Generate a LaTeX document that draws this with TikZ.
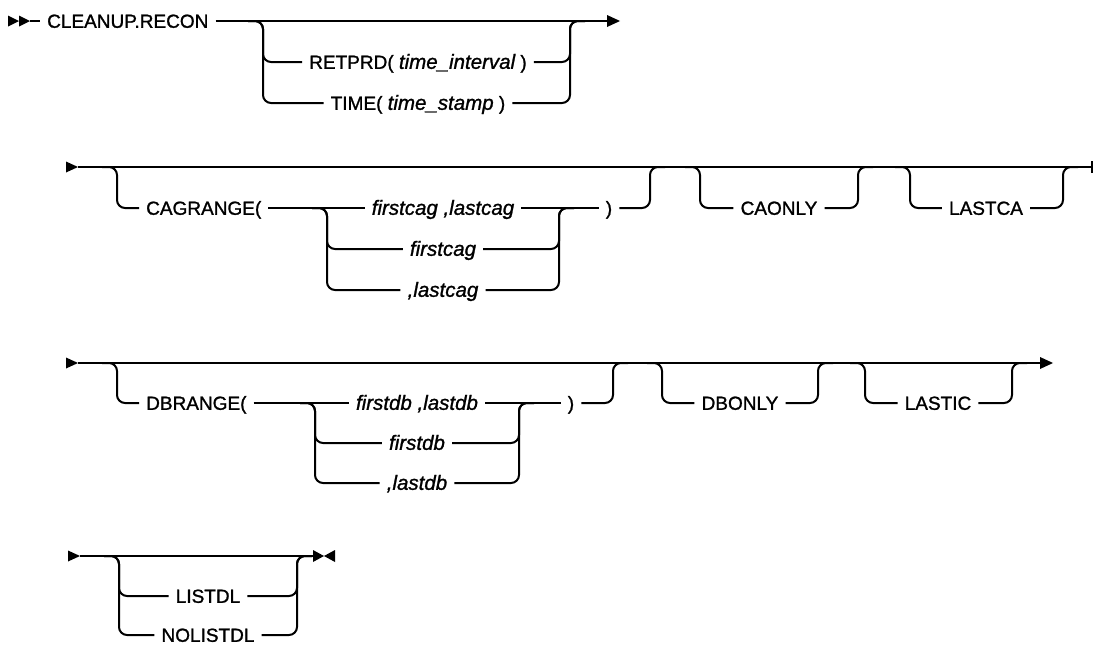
\documentclass[tikz,border=0pt]{standalone}
\usepackage{fontspec}
\setmainfont{Liberation Sans}[UprightFeatures={FakeBold=1.2},ItalicFeatures={FakeBold=1.2}]
\begin{document}
\begin{tikzpicture}[x=1pt,y=-1pt,
  rr/.style={line width=2pt, rounded corners=8pt},
  lbl/.style={inner xsep=7pt, inner ysep=0pt, text height=13.6pt, text depth=0pt, font=\fontsize{19}{22}\selectfont},
  arg/.style={lbl, font=\fontsize{20.5}{23}\selectfont\itshape},
  tri/.style={fill=black}]
\useasboundingbox (0,0) rectangle (1093,645);

% ---------------- Row 1 ----------------
\fill[tri] (8,15.5) -- (19,21) -- (8,26.5) -- cycle;
\fill[tri] (19,15.5) -- (30,21) -- (19,26.5) -- cycle;
\coordinate (s1) at (30,21);
\coordinate (e1) at (620,21);
\node[lbl,anchor=west] (cr) at (40,21) {CLEANUP.RECON};
\draw[rr] (s1) -- (cr.west);
\draw[rr,shorten >=6pt] (cr.east) -- (e1);
\fill[tri] (e1) -- ++(-13,-6) -- ++(0,12) -- cycle;
\coordinate (g1l) at (263,21);
\coordinate (g1r) at (570,21);
\node[lbl] (ret) at (418,62) {RETPRD( {\fontsize{20.5}{23}\selectfont\itshape time\_interval} )};
\node[lbl] (tim) at (418,103) {TIME( {\fontsize{20.5}{23}\selectfont\itshape time\_stamp} )};
\foreach \n in {ret,tim}{
  \draw[rr] ([xshift=-15pt]g1l) -- (g1l) -- (g1l |- \n) -- (\n.west);
  \draw[rr] (\n.east) -- (g1r |- \n) -- (g1r) -- ([xshift=15pt]g1r);
}

% ---------------- Row 2 ----------------
\coordinate (s2) at (78,167);
\coordinate (e2) at (1092,167);
\fill[tri] (s2) -- ++(-12,-5.5) -- ++(0,11) -- cycle;
\draw[rr] (s2) -- (e2);
\draw[line width=2pt] ([yshift=6pt]e2) -- ([yshift=-6pt]e2);
\coordinate (A2l) at (117,167);
\coordinate (A2r) at (650,167);
\node[lbl,anchor=west] (cag) at (139,208) {CAGRANGE(};
\draw[rr] ([xshift=-15pt]A2l) -- (A2l) -- (A2l |- cag) -- (cag.west);
\coordinate (I2l) at (327,208);
\coordinate (I2r) at (559,208);
\node[arg] (fl2) at (443,208) {firstcag ,lastcag};
\node[arg] (f2) at (443,249) {firstcag};
\node[arg] (l2) at (443,290) {,lastcag};
\node[lbl] (cp2) at (609,208) {)};
\draw[rr] (cag.east) -- (fl2.west);
\draw[rr] (fl2.east) -- (cp2.west);
\draw[rr] (cp2.east) -- (A2r |- cp2) -- (A2r) -- ([xshift=15pt]A2r);
\foreach \n in {f2,l2}{
  \draw[rr] ([xshift=-15pt]I2l) -- (I2l) -- (I2l |- \n) -- (\n.west);
  \draw[rr] (\n.east) -- (I2r |- \n) -- (I2r) -- ([xshift=15pt]I2r);
}
\coordinate (B2l) at (700,167);
\coordinate (B2r) at (858,167);
\node[lbl] (cao) at (779,208) {CAONLY};
\draw[rr] ([xshift=-15pt]B2l) -- (B2l) -- (B2l |- cao) -- (cao.west);
\draw[rr] (cao.east) -- (B2r |- cao) -- (B2r) -- ([xshift=15pt]B2r);
\coordinate (C2l) at (910,167);
\coordinate (C2r) at (1063,167);
\node[lbl] (lca) at (986,208) {LASTCA};
\draw[rr] ([xshift=-15pt]C2l) -- (C2l) -- (C2l |- lca) -- (lca.west);
\draw[rr] (lca.east) -- (C2r |- lca) -- (C2r) -- ([xshift=15pt]C2r);

% ---------------- Row 3 ----------------
\coordinate (s3) at (78,363);
\coordinate (e3) at (1053,363);
\fill[tri] (s3) -- ++(-12,-5.5) -- ++(0,11) -- cycle;
\draw[rr,shorten >=6pt] (s3) -- (e3);
\fill[tri] (e3) -- ++(-13,-6) -- ++(0,12) -- cycle;
\coordinate (A3l) at (117,363);
\coordinate (A3r) at (613,363);
\node[lbl,anchor=west] (dbr) at (139,403) {DBRANGE(};
\draw[rr] ([xshift=-15pt]A3l) -- (A3l) -- (A3l |- dbr) -- (dbr.west);
\coordinate (I3l) at (315,403);
\coordinate (I3r) at (519,403);
\node[arg] (fl3) at (417,403) {firstdb ,lastdb};
\node[arg] (f3) at (417,443) {firstdb};
\node[arg] (l3) at (417,483) {,lastdb};
\node[lbl] (cp3) at (571,403) {)};
\draw[rr] (dbr.east) -- (fl3.west);
\draw[rr] (fl3.east) -- (cp3.west);
\draw[rr] (cp3.east) -- (A3r |- cp3) -- (A3r) -- ([xshift=15pt]A3r);
\foreach \n in {f3,l3}{
  \draw[rr] ([xshift=-15pt]I3l) -- (I3l) -- (I3l |- \n) -- (\n.west);
  \draw[rr] (\n.east) -- (I3r |- \n) -- (I3r) -- ([xshift=15pt]I3r);
}
\coordinate (B3l) at (662,363);
\coordinate (B3r) at (818,363);
\node[lbl] (dbo) at (740,403) {DBONLY};
\draw[rr] ([xshift=-15pt]B3l) -- (B3l) -- (B3l |- dbo) -- (dbo.west);
\draw[rr] (dbo.east) -- (B3r |- dbo) -- (B3r) -- ([xshift=15pt]B3r);
\coordinate (C3l) at (865,363);
\coordinate (C3r) at (1012,363);
\node[lbl] (lic) at (938,403) {LASTIC};
\draw[rr] ([xshift=-15pt]C3l) -- (C3l) -- (C3l |- lic) -- (lic.west);
\draw[rr] (lic.east) -- (C3r |- lic) -- (C3r) -- ([xshift=15pt]C3r);

% ---------------- Row 4 ----------------
\coordinate (s4) at (80,556);
\coordinate (e4) at (324,556);
\fill[tri] (s4) -- ++(-12,-5.5) -- ++(0,11) -- cycle;
\draw[rr,shorten >=11pt] (s4) -- (e4);
\fill[tri] (e4) -- ++(-11,-6) -- ++(0,12) -- cycle;
\fill[tri] (e4) -- ++(11,-6) -- ++(0,12) -- cycle;
\coordinate (A4l) at (119,556);
\coordinate (A4r) at (297,556);
\node[lbl] (lst) at (208,596) {LISTDL};
\node[lbl] (nls) at (208,635) {NOLISTDL};
\foreach \n in {lst,nls}{
  \draw[rr] ([xshift=-15pt]A4l) -- (A4l) -- (A4l |- \n) -- (\n.west);
  \draw[rr] (\n.east) -- (A4r |- \n) -- (A4r) -- ([xshift=15pt]A4r);
}
\end{tikzpicture}
\end{document}
